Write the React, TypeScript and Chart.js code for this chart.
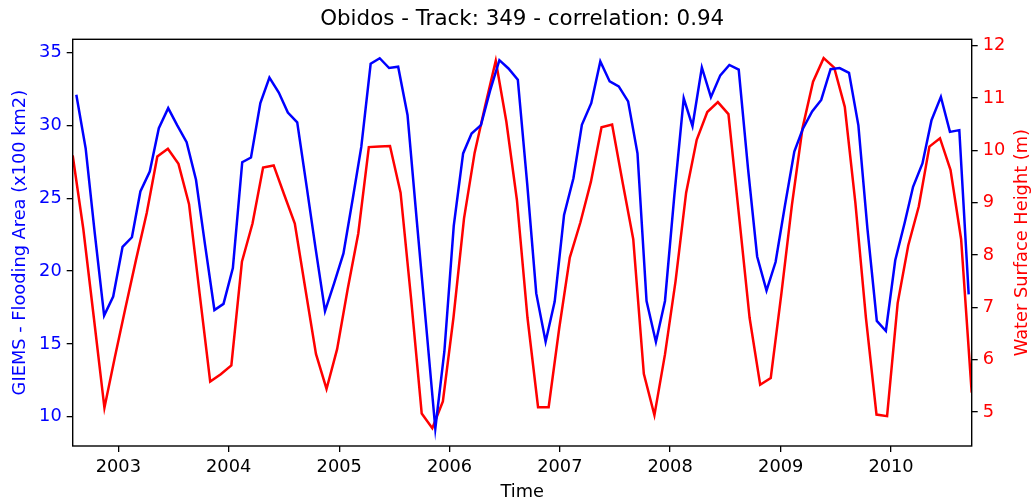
import React, { useEffect, useRef } from "react";
import { Chart, registerables } from "chart.js";

Chart.register(...registerables);

const TITLE = "Obidos - Track: 349 - correlation: 0.94";
const X_LABEL = "Time";
const LEFT_LABEL = "GIEMS - Flooding Area (x100 km2)";
const RIGHT_LABEL = "Water Surface Height (m)";

const tickYears = [2003, 2004, 2005, 2006, 2007, 2008, 2009, 2010];
const leftTicks = [10, 15, 20, 25, 30, 35];
const rightTicks = [5, 6, 7, 8, 9, 10, 11, 12];

// GIEMS flooding area (x100 km2), monthly (mid-month), from Aug 2002 to Sep 2010
const giemsStartYear = 2002;
const giemsStartMonth = 8;
const giemsValues = [
  32.1, 28.4, 22.6, 16.95, 18.25,
  21.66, 22.32, 25.46, 26.83, 29.8, 31.18, 29.99, 28.84, 26.26, 21.8, 17.33, 17.75,
  20.2, 27.47, 27.79, 31.52, 33.28, 32.25, 30.87, 30.2, 25.83, 21.52, 17.25, 19.15,
  21.21, 25.0, 28.52, 34.22, 34.6, 33.93, 34.02, 30.71, 23.37, 16.42, 9.2, 14.5,
  23.1, 28.07, 29.44, 30.01, 32.36, 34.47, 33.9, 33.13, 26.0, 18.47, 15.15, 17.91,
  23.85, 26.37, 30.03, 31.52, 34.38, 33.01, 32.67, 31.64, 28.08, 17.95, 15.14, 17.95,
  25.2, 31.85, 29.95, 33.97, 31.93, 33.43, 34.14, 33.82, 27.0, 21.0, 18.66, 20.62,
  24.5, 28.2, 29.75, 30.95, 31.74, 33.85, 33.93, 33.6, 30.0, 22.9, 16.58, 15.89,
  20.74, 23.3, 25.78, 27.38, 30.35, 31.95, 29.55, 29.67, 18.4,
];

// Altimetry water surface height (m), ENVISAT 35-day repeat passes from 2002-08-03
const wshFirstPass = { year: 2002, month: 8, day: 3 };
const wshRepeatDays = 35;
const wshValues = [
  9.9, 8.5, 6.8, 5.08, 6.06, 7.0, 7.92, 8.8, 9.88, 10.03, 9.74, 8.97, 7.26, 5.58, 5.72,
  5.89, 7.87, 8.6, 9.67, 9.71, 9.15, 8.6, 7.35, 6.11, 5.44, 6.2, 7.35, 8.41, 10.06, 10.07,
  10.08, 9.19, 7.15, 4.97, 4.69, 5.2, 6.8, 8.7, 9.95, 10.85, 11.71, 10.55, 9.05, 6.8, 5.09,
  5.09, 6.6, 7.95, 8.62, 9.4, 10.44, 10.49, 9.38, 8.3, 5.73, 4.94, 6.1, 7.5, 9.19, 10.2,
  10.73, 10.92, 10.69, 8.75, 6.8, 5.52, 5.65, 7.25, 8.95, 10.42, 11.31, 11.76, 11.58, 10.83, 9.0,
  6.8, 4.95, 4.92, 7.08, 8.18, 8.93, 10.07, 10.23, 9.62, 8.3, 5.37,
];

const FONT = "'DejaVu Sans', 'Liberation Sans', sans-serif";
const BASE = 17.8;
const TITLE_SIZE = 21.4;
const BLUE = "#0000ff";
const RED = "#ff0000";

const DAY = 86400000;
const EPOCH = Date.UTC(2003, 0, 1);
const dayOf = (y: number, m: number, d: number) => (Date.UTC(y, m - 1, d) - EPOCH) / DAY;

export default function App() {
  const ref = useRef<HTMLCanvasElement | null>(null);

  useEffect(() => {
    document.body.style.margin = "0";
    const canvas = ref.current;
    if (!canvas) return;

    const giemsPts = giemsValues.map((v, i) => ({
      x: dayOf(giemsStartYear, giemsStartMonth + i, 15),
      y: v,
    }));
    const wshStart = dayOf(wshFirstPass.year, wshFirstPass.month, wshFirstPass.day);
    const wshPts = wshValues.map((v, i) => ({ x: wshStart + i * wshRepeatDays, y: v }));
    const xMin = wshPts[0].x;
    const xMax = wshPts[wshPts.length - 1].x;

    const font = { family: FONT, size: BASE };

    const framePlugin = {
      id: "frame",
      afterDraw(chart: any) {
        const { ctx, chartArea } = chart;
        const { left, right, top, bottom } = chartArea;
        ctx.save();
        ctx.strokeStyle = "#000";
        ctx.lineWidth = 1.4;
        ctx.strokeRect(left, top, right - left, bottom - top);
        // title
        ctx.fillStyle = "#000";
        ctx.font = `${TITLE_SIZE}px ${FONT}`;
        ctx.textAlign = "center";
        ctx.textBaseline = "alphabetic";
        ctx.fillText(TITLE, (left + right) / 2, 25);
        // right axis title (reads bottom to top)
        ctx.fillStyle = RED;
        ctx.font = `${BASE}px ${FONT}`;
        ctx.translate(1022, (top + bottom) / 2);
        ctx.rotate(-Math.PI / 2);
        ctx.textBaseline = "middle";
        ctx.fillText(RIGHT_LABEL, 0, 0);
        ctx.restore();
      },
    };

    const chart = new Chart(canvas, {
      type: "line",
      data: {
        datasets: [
          {
            label: "GIEMS",
            data: giemsPts,
            yAxisID: "y",
            borderColor: BLUE,
            borderWidth: 2.5,
            pointRadius: 0,
            tension: 0,
            fill: false,
            clip: 0,
          } as any,
          {
            label: "WSH",
            data: wshPts,
            yAxisID: "y1",
            borderColor: RED,
            borderWidth: 2.5,
            pointRadius: 0,
            tension: 0,
            fill: false,
            clip: 0,
          } as any,
        ],
      },
      options: {
        responsive: false,
        animation: false,
        layout: { padding: { top: 39.3, left: 0, right: 0, bottom: 0 } },
        plugins: {
          legend: { display: false },
          title: { display: false },
          tooltip: { enabled: false },
        },
        scales: {
          x: {
            type: "linear",
            min: xMin,
            max: xMax,
            afterBuildTicks: (s: any) => {
              s.ticks = tickYears.map((y) => ({ value: dayOf(y, 1, 1) }));
            },
            afterFit: (s: any) => {
              s.height = 58;
            },
            ticks: {
              color: "#000",
              font,
              padding: 5,
              maxRotation: 0,
              autoSkip: false,
              callback: (_v: any, i: number) => String(tickYears[i]),
            },
            grid: {
              display: true,
              drawOnChartArea: false,
              drawTicks: true,
              tickLength: 6,
              color: "#000",
              lineWidth: 1.3,
            },
            border: { display: false },
            title: {
              display: true,
              text: X_LABEL,
              color: "#000",
              font,
              padding: { top: 0, bottom: 1 },
            },
          },
          y: {
            type: "linear",
            position: "left",
            min: 8.0,
            max: 35.9,
            afterBuildTicks: (s: any) => {
              s.ticks = leftTicks.map((v) => ({ value: v }));
            },
            afterFit: (s: any) => {
              s.width = 72.7;
            },
            ticks: {
              color: BLUE,
              font,
              padding: 5,
              callback: (v: any) => String(v),
            },
            grid: {
              display: true,
              drawOnChartArea: false,
              drawTicks: true,
              tickLength: 6,
              color: "#000",
              lineWidth: 1.3,
            },
            border: { display: false },
            title: {
              display: true,
              text: LEFT_LABEL,
              color: BLUE,
              font,
              padding: { top: 10, bottom: 0 },
            },
          },
          y1: {
            type: "linear",
            position: "right",
            min: 4.35,
            max: 12.12,
            afterBuildTicks: (s: any) => {
              s.ticks = rightTicks.map((v) => ({ value: v }));
            },
            afterFit: (s: any) => {
              s.width = 63.3;
            },
            ticks: {
              color: RED,
              font,
              padding: 5,
              callback: (v: any) => String(v),
            },
            grid: {
              display: true,
              drawOnChartArea: false,
              drawTicks: true,
              tickLength: 6,
              color: "#000",
              lineWidth: 1.3,
            },
            border: { display: false },
          },
        },
      } as any,
      plugins: [framePlugin],
    });

    return () => chart.destroy();
  }, []);

  return (
    <div style={{ width: 1035, height: 504, position: "relative" }}>
      <canvas ref={ref} width={1035} height={504} style={{ display: "block" }} />
    </div>
  );
}
